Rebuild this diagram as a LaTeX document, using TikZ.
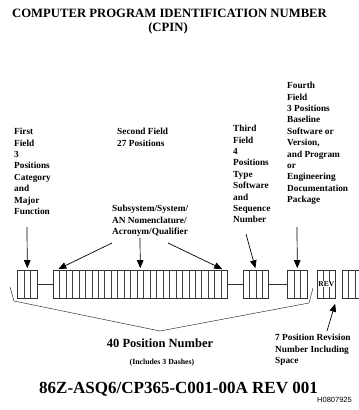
\documentclass[tikz,border=0pt]{standalone}
\usepackage{fontspec}
\setmainfont{Liberation Serif}
\newfontfamily\arialfont{Liberation Sans}
\usetikzlibrary{arrows.meta,calc}
\newcommand\cellsplit[3]{%
  \foreach \i in {1,...,#2}{%
    \draw[cellline] ($(#1.north west)!{\i/#3}!(#1.north east)$) -- ($(#1.south west)!{\i/#3}!(#1.south east)$);}}
\begin{document}
\begin{tikzpicture}[x=1pt,y=-1pt,
  cellbox/.style={draw=black!80, line width=0.6pt, minimum height=28pt, inner sep=0pt, anchor=west},
  cellline/.style={draw=black!75, line width=0.55pt},
  lbl/.style={font=\fontsize{9.3}{11.4}\selectfont\bfseries, align=left, anchor=north west, inner sep=0pt},
  arr/.style={line width=0.7pt, -{Triangle[length=8pt,width=6.5pt]}, shorten >=1.5pt},
  dashline/.style={line width=0.6pt, draw=black!80},
  bracket/.style={line width=0.5pt, draw=black!80}]
\useasboundingbox (0,0) rectangle (359,410);
% title
\node[font=\fontsize{12.7}{14}\selectfont\bfseries, inner sep=0pt] (title) at (169.5,13) {COMPUTER PROGRAM IDENTIFICATION NUMBER};
\node[font=\fontsize{12.7}{14}\selectfont\bfseries, inner sep=0pt] (cpin) at (168,28) {(CPIN)};
% labels
\node[lbl] (t1) at (14,128) {First\\Field\\3\\Positions\\Category\\and\\Major\\Function};
\node[lbl] (t2) at (117,128) {Second Field\\27 Positions};
\node[lbl] (t2b) at (112,205) {Subsystem/System/\\AN Nomenclature/\\Acronym/Qualifier};
\node[lbl] (t3) at (233,125) {Third\\Field\\4\\Positions\\Type\\Software\\and\\Sequence\\Number};
\node[lbl] (t4) at (287,82) {Fourth\\Field\\3 Positions\\Baseline\\Software or\\Version,\\and Program\\or\\Engineering\\Documentation\\Package};
\node[lbl] (t5) at (275,334) {7 Position Revision\\Number Including\\Space};
% boxes
\node[cellbox, minimum width=20pt] (f1) at (17,284) {};
\node[cellbox, minimum width=174pt] (f2) at (53,284) {};
\node[cellbox, minimum width=25pt] (f3) at (243,284) {};
\node[cellbox, minimum width=20pt] (f4) at (287,284) {};
\node[cellbox, minimum width=18pt] (rv) at (317,284) {};
\node[cellbox, minimum width=19pt] (f6) at (342,284) {};
\cellsplit{f1}{2}{3}
\cellsplit{f2}{26}{27}
\cellsplit{f3}{3}{4}
\cellsplit{f4}{2}{3}
\cellsplit{rv}{2}{3}
\cellsplit{f6}{2}{3}
\node[font=\fontsize{7.5}{7.5}\selectfont\bfseries, fill=white, inner sep=0.3pt] (revtxt) at (rv.center) {REV};
% dashes
\draw[dashline] (f1.east) -- (f2.west);
\draw[dashline] (f2.east) -- (f3.west);
\draw[dashline] (f3.east) -- (f4.west);
% bracket
\coordinate (b1) at (10,287);
\coordinate (b2) at (14,301);
\coordinate (b3) at (160,331);
\coordinate (b4) at (309,303);
\coordinate (b5) at (313,288);
\draw[bracket] (b1) -- (b2) -- (b3) -- (b4) -- (b5);
% arrows
\coordinate (a1s) at (27,227);
\coordinate (a2l) at (112,243);
\coordinate (a2m) at (140,238);
\coordinate (a2r) at (168,243);
\coordinate (a3s) at (246,234);
\coordinate (a4s) at (297,227);
\coordinate (a5s) at (327,331);
\draw[arr] (a1s) -- (f1.north);
\draw[arr] (a2l) -- ([xshift=4pt]f2.north west);
\draw[arr] (a2m) -- (f2.north);
\draw[arr] (a2r) -- ([xshift=-4pt]f2.north east);
\draw[arr] (a3s) -- (f3.north);
\draw[arr] (a4s) -- (f4.north);
\draw[arr] (a5s) -- ([yshift=-4pt]rv.south east);
% bottom texts
\node[font=\fontsize{12.5}{14}\selectfont\bfseries, inner sep=0pt] (forty) at (160,343) {40 Position Number};
\node[font=\fontsize{7.8}{9}\selectfont\bfseries, inner sep=0pt] (incl) at (162,363) {(Includes 3 Dashes)};
\node[font=\fontsize{17}{19}\selectfont\bfseries, inner sep=0pt] (cpinnum) at (178.5,389) {86Z-ASQ6/CP365-C001-00A REV 001};
\node[font=\fontsize{7.5}{8}\selectfont\arialfont, anchor=east, inner sep=0pt] (hnum) at (352,400) {H0807925};
\end{tikzpicture}
\end{document}
